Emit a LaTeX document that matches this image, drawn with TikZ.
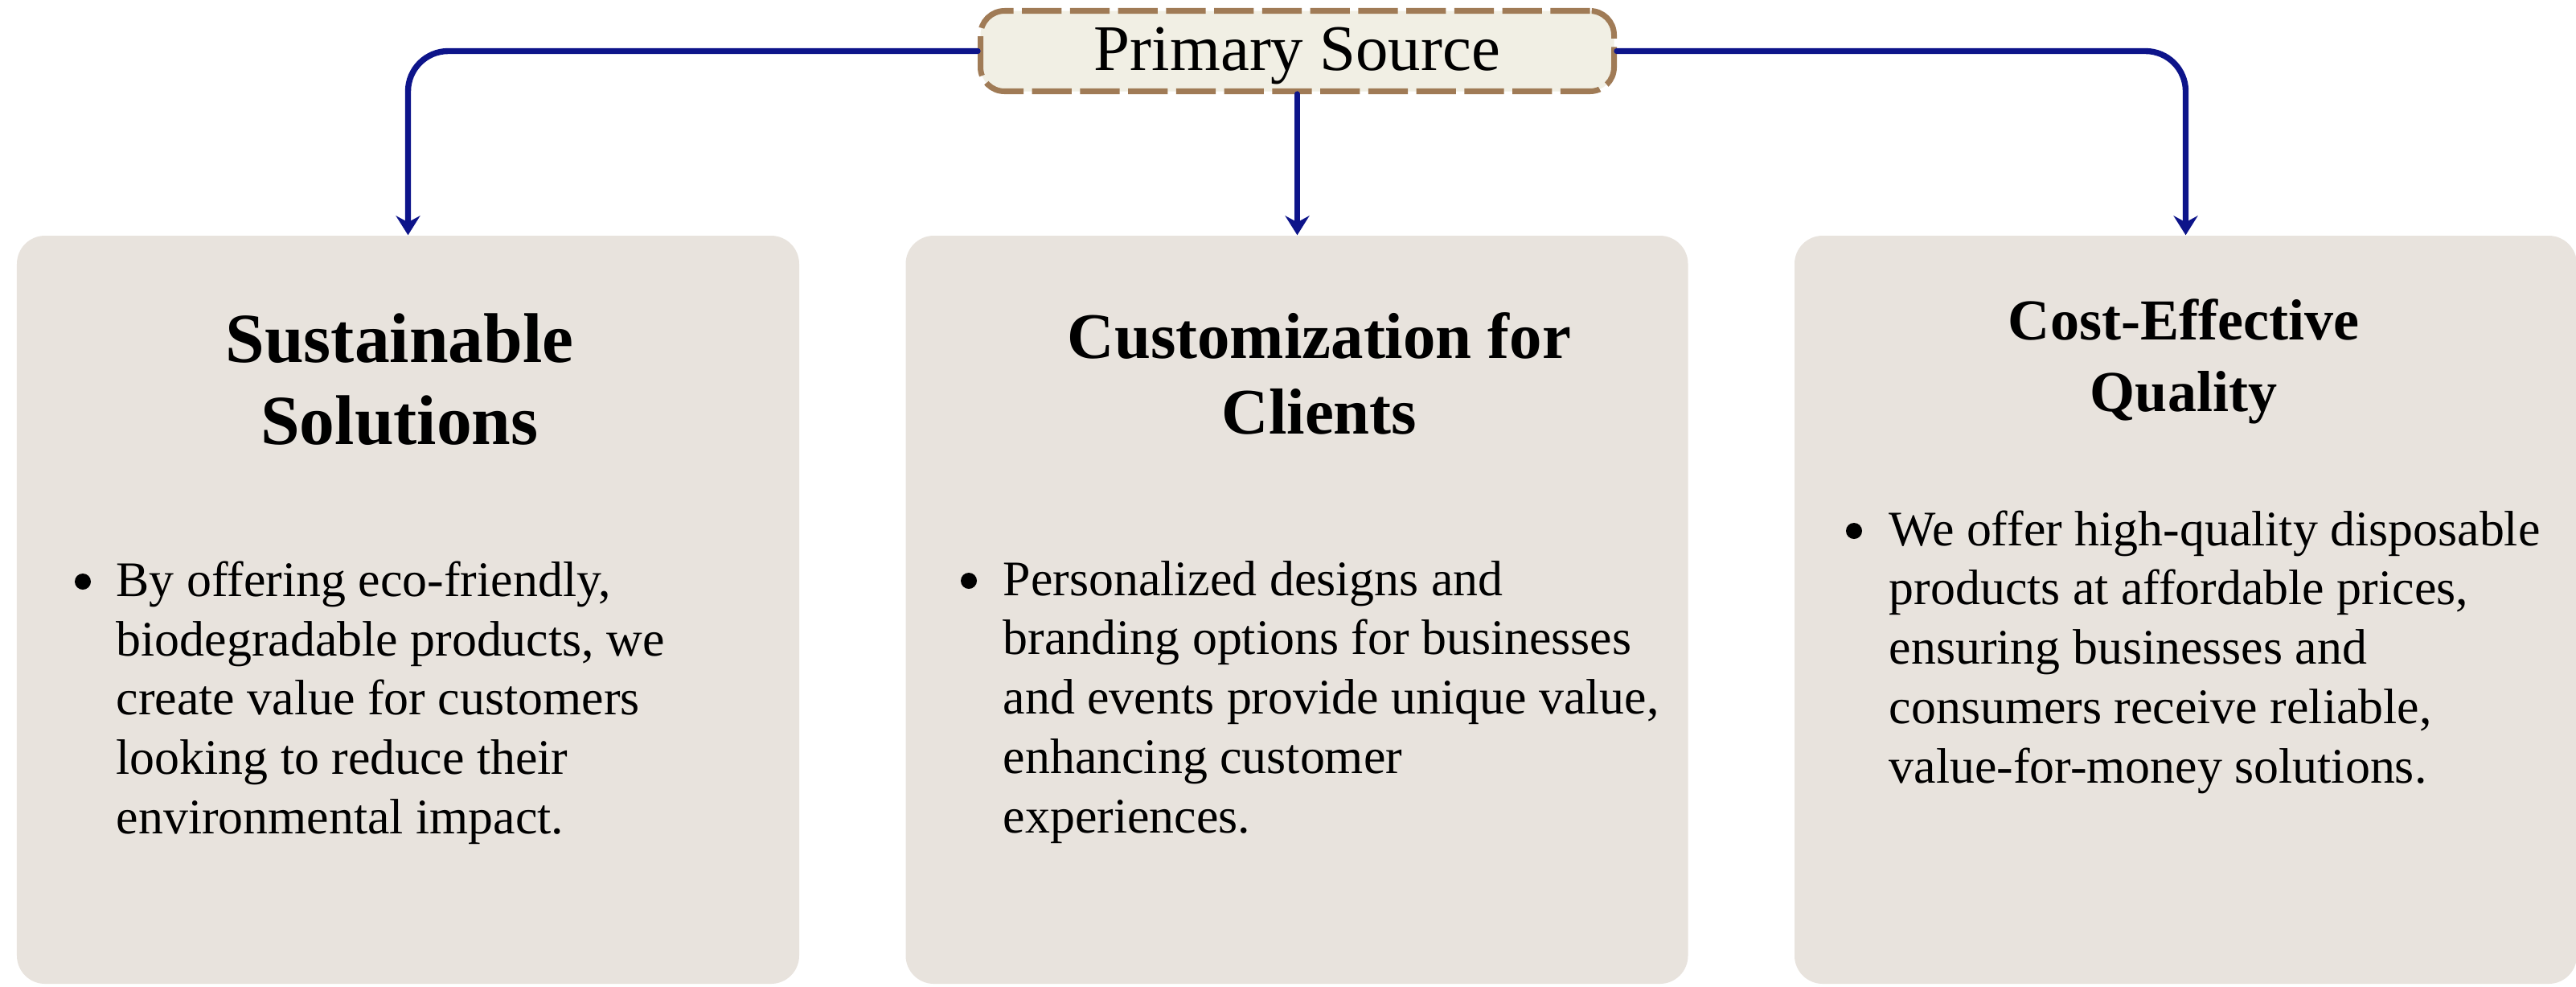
\documentclass[tikz,border=0pt]{standalone}
\usepackage{fontspec}
\setmainfont{Liberation Serif}
\usetikzlibrary{arrows.meta}
\definecolor{navy}{HTML}{0D148A}
\definecolor{boxfill}{HTML}{E8E3DD}
\definecolor{psfill}{HTML}{F1EFE4}
\definecolor{psdraw}{HTML}{A07B56}
\begin{document}
\begin{tikzpicture}[
 card/.style={rectangle, rounded corners=0.35cm, fill=boxfill, minimum width=9.73cm, minimum height=9.30cm, inner sep=0},
 psbox/.style={rectangle, rounded corners=0.3cm, fill=psfill, draw=psdraw, line width=2pt, dash pattern=on 14pt off 3pt, minimum width=7.88cm, minimum height=1.0cm, inner sep=0, text height=16pt, text depth=2.6pt, font=\fontsize{23}{27}\selectfont},
 conn/.style={draw=navy, line width=2.1pt, line cap=round, rounded corners=0.5cm, -{Stealth[length=0.24cm,width=0.30cm,inset=0.08cm]}},
 dot/.style={circle, fill=black, minimum size=0.2cm, inner sep=0},
 body/.style={anchor=base west, inner sep=0, font=\fontsize{17.6}{21.05}\selectfont},
 ttl/.style={anchor=base, inner sep=0}
]
\useasboundingbox (0,0) rectangle (32.04,-12.26);
\fill[white] (0,0) rectangle (32.04,-12.26);

\node[card] (b1) at (5.075,-7.58) {};
\node[card] (b2) at (16.13,-7.58) {};
\node[card] (b3) at (27.185,-7.58) {};

\node[psbox] (ps) at (16.135,-0.635) {Primary Source};

\draw[conn] (ps.west) -| (b1.north);
\draw[conn] (ps.south) -- (ps.south |- b2.north);
\draw[conn] (ps.east) -| (b3.north);

\node[ttl, font=\bfseries\fontsize{24.9}{29.3}\selectfont] (t1) at (4.97,-4.50) {\begin{tabular}[t]{@{}c@{}}Sustainable\\Solutions\end{tabular}};
\node[ttl, font=\bfseries\fontsize{23}{27}\selectfont] (t2) at (16.41,-4.45) {\begin{tabular}[t]{@{}c@{}}Customization for\\Clients\end{tabular}};
\node[ttl, font=\bfseries\fontsize{20.5}{25.6}\selectfont] (t3) at (27.16,-4.22) {\begin{tabular}[t]{@{}c@{}}Cost-Effective\\Quality\end{tabular}};

\node[dot] (d1) at (1.03,-7.23) {};
\node[dot] (d2) at (12.05,-7.22) {};
\node[dot] (d3) at (23.06,-6.60) {};

\node[body] (l1) at (1.44,-7.41) {\begin{tabular}[t]{@{}l@{}}By offering eco-friendly,\\biodegradable products, we\\create value for customers\\looking to reduce their\\environmental impact.\end{tabular}};
\node[body] (l2) at (12.47,-7.40) {\begin{tabular}[t]{@{}l@{}}Personalized designs and\\branding options for businesses\\and events provide unique value,\\enhancing customer\\experiences.\end{tabular}};
\node[body] (l3) at (23.49,-6.78) {\begin{tabular}[t]{@{}l@{}}We offer high-quality disposable\\products at affordable prices,\\ensuring businesses and\\consumers receive reliable,\\value-for-money solutions.\end{tabular}};
\end{tikzpicture}
\end{document}
